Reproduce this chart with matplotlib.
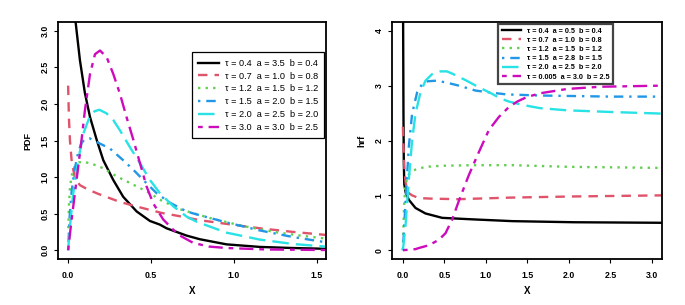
import matplotlib
matplotlib.use("Agg")
import matplotlib.pyplot as plt

plt.rcParams['font.family'] = ['Liberation Sans', 'DejaVu Sans']

# ---- left panel: PDF ----
pdf_black_x = [0.03, 0.046, 0.072, 0.102, 0.133, 0.173, 0.213, 0.273, 0.333, 0.414, 0.494, 0.554,
               0.594, 0.715, 0.795, 0.956, 1.157, 1.357, 1.55]
pdf_black_y = [3.9, 3.12, 2.6, 2.15, 1.82, 1.51, 1.23, 0.96, 0.73, 0.53, 0.40, 0.35,
               0.30, 0.20, 0.15, 0.08, 0.045, 0.03, 0.02]
pdf_red_x = [0.001, 0.006, 0.012, 0.022, 0.042, 0.072, 0.12, 0.183, 0.313, 0.444, 0.564, 0.685,
             0.795, 0.956, 1.157, 1.357, 1.55]
pdf_red_y = [2.25, 1.8, 1.5, 1.23, 0.98, 0.89, 0.83, 0.77, 0.66, 0.58, 0.51, 0.46,
             0.41, 0.36, 0.30, 0.25, 0.21]
pdf_green_x = [0.002, 0.006, 0.012, 0.022, 0.04, 0.065, 0.092, 0.13, 0.17, 0.213, 0.293, 0.373,
               0.434, 0.494, 0.554, 0.675, 0.855, 1.056, 1.257, 1.4, 1.55]
pdf_green_y = [0.30, 0.62, 0.85, 1.02, 1.14, 1.20, 1.21, 1.19, 1.16, 1.12, 1.01, 0.92,
               0.85, 0.78, 0.69, 0.56, 0.44, 0.33, 0.245, 0.2, 0.16]
pdf_blue_x = [0.001, 0.01, 0.022, 0.04, 0.06, 0.08, 0.102, 0.13, 0.173, 0.253, 0.333, 0.394,
              0.454, 0.534, 0.614, 0.715, 0.775, 0.956, 1.157, 1.357, 1.55]
pdf_blue_y = [0.0, 0.45, 0.8, 1.1, 1.32, 1.46, 1.52, 1.53, 1.48, 1.39, 1.23, 1.10,
              0.96, 0.78, 0.65, 0.53, 0.49, 0.38, 0.27, 0.18, 0.11]
pdf_cyan_x = [0.001, 0.012, 0.032, 0.062, 0.092, 0.13, 0.16, 0.19, 0.233, 0.273, 0.313, 0.373,
              0.434, 0.494, 0.554, 0.635, 0.715, 0.775, 0.956, 1.157, 1.357, 1.55]
pdf_cyan_y = [0.0, 0.32, 0.78, 1.23, 1.59, 1.82, 1.90, 1.92, 1.87, 1.78, 1.64, 1.41,
              1.19, 0.96, 0.78, 0.60, 0.46, 0.39, 0.24, 0.145, 0.085, 0.05]
pdf_mag_x = [0.001, 0.022, 0.052, 0.082, 0.102, 0.133, 0.163, 0.193, 0.233, 0.273, 0.313, 0.353,
             0.394, 0.434, 0.474, 0.514, 0.574, 0.635, 0.675, 0.755, 0.85, 0.956, 1.2, 1.55]
pdf_mag_y = [0.0, 0.42, 0.96, 1.51, 1.91, 2.41, 2.68, 2.73, 2.64, 2.41, 2.14, 1.82,
             1.51, 1.19, 0.87, 0.64, 0.42, 0.28, 0.20, 0.10, 0.05, 0.03, 0.01, 0.003]
pdf_labels = ["\u03c4 = 0.4  a = 3.5  b = 0.4", "\u03c4 = 0.7  a = 1.0  b = 0.8",
              "\u03c4 = 1.2  a = 1.5  b = 1.2", "\u03c4 = 1.5  a = 2.0  b = 1.5",
              "\u03c4 = 2.0  a = 2.5  b = 2.0", "\u03c4 = 3.0  a = 3.0  b = 2.5"]

# ---- right panel: hrf ----
hrf_black_x = [0.003, 0.008, 0.012, 0.018, 0.035, 0.072, 0.153, 0.273, 0.474, 0.876, 1.32, 2.06, 3.12]
hrf_black_y = [4.5, 2.5, 1.6, 1.2, 1.05, 0.92, 0.77, 0.67, 0.59, 0.56, 0.53, 0.51, 0.50]
hrf_red_x = [0.001, 0.008, 0.02, 0.035, 0.052, 0.072, 0.112, 0.193, 0.353, 0.675, 0.876, 1.32, 2.06, 3.12]
hrf_red_y = [2.25, 1.9, 1.45, 1.22, 1.10, 1.04, 1.0, 0.95, 0.94, 0.93, 0.94, 0.96, 0.98, 1.0]
hrf_green_x = [0.001, 0.008, 0.015, 0.03, 0.05, 0.072, 0.112, 0.153, 0.273, 0.474, 0.876, 1.32, 2.0, 3.12]
hrf_green_y = [0.0, 0.4, 0.8, 1.15, 1.30, 1.38, 1.44, 1.47, 1.52, 1.54, 1.55, 1.55, 1.52, 1.50]
hrf_blue_x = [0.001, 0.012, 0.032, 0.072, 0.112, 0.173, 0.233, 0.3, 0.4, 0.514, 0.675, 0.876,
              1.076, 1.25, 1.65, 2.5, 3.12]
hrf_blue_y = [0.0, 0.3, 0.86, 1.88, 2.49, 2.88, 3.03, 3.08, 3.09, 3.06, 3.00, 2.91,
              2.87, 2.84, 2.82, 2.80, 2.80]
hrf_cyan_x = [0.001, 0.032, 0.072, 0.112, 0.153, 0.213, 0.273, 0.353, 0.454, 0.53, 0.594, 0.755,
              0.916, 1.076, 1.17, 1.277, 1.438, 1.65, 1.98, 2.5, 3.12]
hrf_cyan_y = [0.0, 0.43, 1.28, 2.00, 2.49, 2.88, 3.09, 3.21, 3.26, 3.26, 3.22, 3.10,
              2.97, 2.85, 2.77, 2.71, 2.65, 2.59, 2.55, 2.52, 2.49]
hrf_mag_x = [0.001, 0.153, 0.193, 0.313, 0.434, 0.514, 0.594, 0.675, 0.795, 0.916, 1.036, 1.157,
             1.277, 1.378, 1.49, 1.65, 1.98, 2.38, 3.12]
hrf_mag_y = [0.0, 0.02, 0.04, 0.09, 0.19, 0.31, 0.56, 0.90, 1.37, 1.79, 2.19, 2.43,
             2.61, 2.71, 2.79, 2.86, 2.94, 2.98, 3.0]
hrf_labels = ["\u03c4 = 0.4  a = 0.5  b = 0.4", "\u03c4 = 0.7  a = 1.0  b = 0.8",
              "\u03c4 = 1.2  a = 1.5  b = 1.2", "\u03c4 = 1.5  a = 2.8  b = 1.5",
              "\u03c4 = 2.0  a = 2.5  b = 2.0", "\u03c4 = 0.005  a = 3.0  b = 2.5"]

colors = ['black', '#DF536B', '#61D04F', '#2297E6', '#28E2E5', '#CD0BBC']
styles = ['-', (0, (4, 3)), (0, (1, 2.2)), (0, (1, 2.5, 4, 2.5)), (0, (7, 3)), (0, (2, 2.5, 6, 2.5))]
lw = 1.7

fig = plt.figure(figsize=(6.85, 3.05), dpi=100)
ax1 = fig.add_axes([58 / 685, 46 / 305, 268 / 685, 237 / 305])
ax2 = fig.add_axes([392 / 685, 46 / 305, 270 / 685, 237 / 305])

pdf_series = [(pdf_black_x, pdf_black_y), (pdf_red_x, pdf_red_y), (pdf_green_x, pdf_green_y),
              (pdf_blue_x, pdf_blue_y), (pdf_cyan_x, pdf_cyan_y), (pdf_mag_x, pdf_mag_y)]
hrf_series = [(hrf_black_x, hrf_black_y), (hrf_red_x, hrf_red_y), (hrf_green_x, hrf_green_y),
              (hrf_blue_x, hrf_blue_y), (hrf_cyan_x, hrf_cyan_y), (hrf_mag_x, hrf_mag_y)]

for (x, y), c, ls, lab in zip(pdf_series, colors, styles, pdf_labels):
    ax1.plot(x, y, color=c, linestyle=ls, lw=lw, label=lab)
for (x, y), c, ls, lab in zip(hrf_series, colors, styles, hrf_labels):
    ax2.plot(x, y, color=c, linestyle=ls, lw=lw, label=lab)

ax1.set_xlim(-0.06, 1.555)
ax1.set_ylim(-0.12, 3.12)
ax1.set_xticks([0.0, 0.5, 1.0, 1.5])
ax1.set_yticks([0.0, 0.5, 1.0, 1.5, 2.0, 2.5, 3.0])
ax2.set_xlim(-0.13, 3.12)
ax2.set_ylim(-0.16, 4.16)
ax2.set_xticks([0.0, 0.5, 1.0, 1.5, 2.0, 2.5, 3.0])
ax2.set_yticks([0, 1, 2, 3, 4])

for ax, ylab in [(ax1, 'PDF'), (ax2, 'hrf')]:
    for s in ax.spines.values():
        s.set_linewidth(1.3)
    ax.tick_params(axis='both', length=3, width=0.8, labelsize=6.3)
    ax.tick_params(axis='x', pad=6)
    ax.tick_params(axis='y', pad=3, labelrotation=90)
    for t in ax.get_xticklabels() + ax.get_yticklabels():
        t.set_fontweight('bold')
    for t in ax.get_yticklabels():
        t.set_va('center')
    ax.set_xlabel('X', fontsize=7, fontweight='bold', labelpad=4)
    ax.set_ylabel(ylab, fontsize=6.5, fontweight='bold', labelpad=6)

leg1 = ax1.legend(loc='upper left', bbox_to_anchor=(0.499, 0.872), fontsize=6.6,
                  handlelength=2.3, labelspacing=0.42, borderpad=0.7, handletextpad=0.6,
                  fancybox=False, framealpha=1, borderaxespad=0)
leg1.get_frame().set_edgecolor('black')
leg1.get_frame().set_linewidth(0.9)

leg2 = ax2.legend(loc='upper left', bbox_to_anchor=(0.394, 0.992),
                  handlelength=2.6, labelspacing=0.3, borderpad=0.5, handletextpad=0.8,
                  fancybox=False, framealpha=1, borderaxespad=0,
                  prop={'size': 5.2, 'weight': 'bold'})
leg2.get_frame().set_edgecolor('#444444')
leg2.get_frame().set_linewidth(1.6)

fig.savefig('out.png', dpi=100)
